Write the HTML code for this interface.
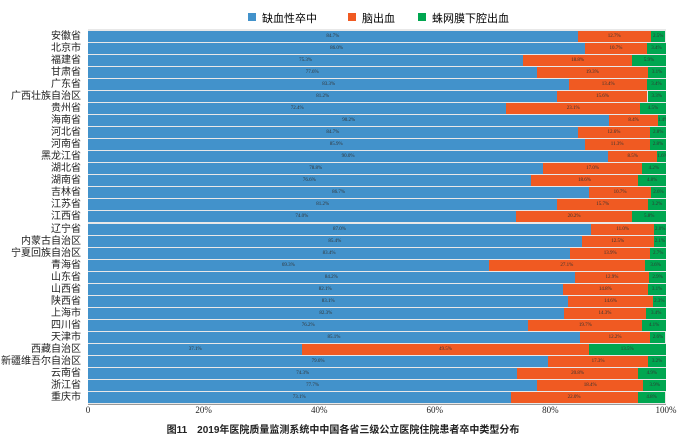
<!DOCTYPE html><html><head><meta charset="utf-8"><style>
body{margin:0;width:686px;height:441px;background:#fff;position:relative;overflow:hidden;font-family:"Liberation Serif","Noto Serif CJK SC",serif}
.a{position:absolute}
.lab{position:absolute;right:605px;font-size:10px;color:#222;font-family:"Liberation Sans","Noto Sans CJK SC",sans-serif;white-space:nowrap;line-height:11px}
.seg{position:absolute;height:11px;font-size:5px;color:#333;text-align:center;line-height:11px;overflow:hidden;white-space:nowrap}
.tk{position:absolute;top:405px;font-size:9px;color:#222;width:40px;margin-left:-20px;text-align:center}
</style></head><body>
<div class="a" style="left:248px;top:13px;width:8px;height:8px;background:#4292cb"></div>
<div class="a" style="left:262px;top:10px;font-size:11px;font-family:'Liberation Sans','Noto Sans CJK SC',sans-serif">缺血性卒中</div>
<div class="a" style="left:348px;top:13px;width:8px;height:8px;background:#f05a22"></div>
<div class="a" style="left:362px;top:10px;font-size:11px;font-family:'Liberation Sans','Noto Sans CJK SC',sans-serif">脑出血</div>
<div class="a" style="left:418px;top:13px;width:8px;height:8px;background:#00a650"></div>
<div class="a" style="left:432px;top:10px;font-size:11px;font-family:'Liberation Sans','Noto Sans CJK SC',sans-serif">蛛网膜下腔出血</div>
<div class="a" style="left:88px;top:29px;width:578px;height:376px;background:#e8e8e8"></div>
<div id="c"></div>
<div class="a" style="left:88px;top:404px;width:578px;height:1px;background:#999"></div>
<div class="tk" style="left:88px">0</div><div class="tk" style="left:203.6px">20%</div><div class="tk" style="left:319.2px">40%</div><div class="tk" style="left:434.8px">60%</div><div class="tk" style="left:550.4px">80%</div><div class="tk" style="left:666px">100%</div>
<div class="a" style="left:0;width:686px;top:421px;text-align:center;font-size:10px;font-weight:bold;font-family:'Liberation Sans','Noto Sans CJK SC',sans-serif;color:#222">图11　2019年医院质量监测系统中中国各省三级公立医院住院患者卒中类型分布</div>
<script>
var d=[["安徽省",84.7,12.7,2.5],["北京市",86.0,10.7,3.4],["福建省",75.3,18.8,5.9],["甘肃省",77.6,19.3,3.1],["广东省",83.3,13.4,3.4],["广西壮族自治区",81.2,15.6,3.3],["贵州省",72.4,23.1,4.5],["海南省",90.2,8.4,1.4],["河北省",84.7,12.6,2.8],["河南省",85.9,11.3,2.8],["黑龙江省",90.0,8.5,1.6],["湖北省",78.8,17.0,4.2],["湖南省",76.6,18.6,4.8],["吉林省",86.7,10.7,2.6],["江苏省",81.2,15.7,3.2],["江西省",74.0,20.2,5.8],["辽宁省",87.0,11.0,2.0],["内蒙古自治区",85.4,12.5,2.1],["宁夏回族自治区",83.4,13.9,2.7],["青海省",69.3,27.1,3.6],["山东省",84.2,12.9,2.9],["山西省",82.1,14.8,3.1],["陕西省",83.1,14.6,2.3],["上海市",82.3,14.3,3.4],["四川省",76.2,19.7,4.1],["天津市",85.1,12.2,2.6],["西藏自治区",37.1,49.5,13.5],["新疆维吾尔自治区",79.6,17.3,3.2],["云南省",74.3,20.8,4.9],["浙江省",77.7,18.4,3.9],["重庆市",73.1,22.0,4.8]];
var h="",W=578,X=88,cols=["#4292cb","#f05a22","#00a650"];
d.forEach(function(r,i){var y=30.7+i*12.05;h+='<div class="lab" style="top:'+y+'px">'+r[0]+'</div>';var x=X;for(var k=0;k<3;k++){var w=r[k+1]/100*W;if(x+w>X+W)w=X+W-x;h+='<div class="seg" style="left:'+x+'px;top:'+y+'px;width:'+w+'px;background:'+cols[k]+'">'+r[k+1].toFixed(1)+'%</div>';x+=w;}});
document.getElementById("c").innerHTML=h;
</script>
</body></html>
